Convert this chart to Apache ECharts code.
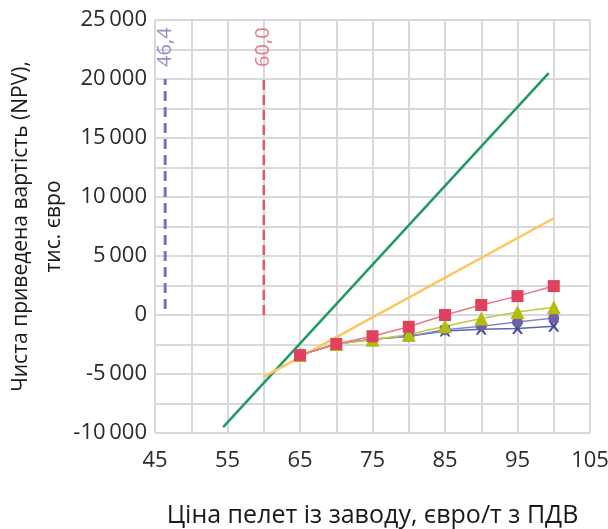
<!DOCTYPE html>
<html><head><meta charset="utf-8">
<script src="https://cdn.jsdelivr.net/npm/echarts@6/dist/echarts.min.js"></script>
<style>html,body{margin:0;padding:0;background:#fff}#c{width:608px;height:529px}</style>
</head><body><div id="c"></div>
<script>
var prices = [65, 70, 75, 80, 85, 90, 95, 100];
var squareSeries = [-3400, -2450, -1800, -1000, 0, 850, 1600, 2450];
var triangleSeries = [-3400, -2450, -2100, -1650, -950, -300, 250, 650];
var circleSeries = [-3400, -2450, -2050, -1800, -1250, -950, -600, -250];
var crossSeries = [-3400, -2450, -2050, -1800, -1350, -1200, -1150, -950];
var greenLine = [[54.4, -9500], [99.3, 20500]];
var yellowLine = [[60, -5250], [100, 8200]];
var breakEvenPurple = [[46.4, 500], [46.4, 20000]];
var breakEvenRed = [[60, 0], [60, 20000]];
var purpleLabel = '46,4';
var redLabel = '60,0';
var labelY = 22700;

function pairs(ys){ return prices.map(function(x,i){ return [x, ys[i]]; }); }
function fmtNum(v){
  var s = String(Math.abs(v));
  if (s.length > 3) s = s.slice(0, s.length-3) + '\u2009' + s.slice(s.length-3);
  return (v < 0 ? '-' : '') + s;
}
var font = '"Open Sans", "Noto Sans", sans-serif';
var chart = echarts.init(document.getElementById('c'));
chart.setOption({
  animation: false,
  grid: {left: 155, right: 18, top: 20, bottom: 96, containLabel: false, outerBoundsMode: 'none'},
  xAxis: {
    type: 'value', min: 45, max: 105, interval: 5,
    axisLine: {show: false}, axisTick: {show: false},
    splitLine: {show: true, lineStyle: {color: '#d9d9d9', width: 2}},
    axisLabel: {color: '#2a2a2a', fontSize: 22, fontFamily: font, margin: 17,
      formatter: function(v){ return ((v - 45) % 10 === 0) ? String(v) : ''; }},
    name: 'Ціна пелет із заводу, євро/т з ПДВ', nameLocation: 'middle', nameGap: 70,
    nameMoveOverlap: false,
    nameTextStyle: {color: '#1a1a1a', fontSize: 25, fontFamily: font}
  },
  yAxis: {
    type: 'value', min: -10000, max: 25000, interval: 2500,
    axisLine: {show: false}, axisTick: {show: false},
    splitLine: {show: true, lineStyle: {color: '#d9d9d9', width: 2}},
    axisLabel: {color: '#2a2a2a', fontSize: 22, fontFamily: font, margin: 8,
      formatter: function(v){ return (v % 5000 === 0) ? fmtNum(v) : ''; }},
    name: 'Чиста приведена вартість (NPV),\nтис. євро', nameLocation: 'middle', nameGap: 84,
    nameMoveOverlap: false,
    nameTextStyle: {color: '#1a1a1a', fontSize: 21, fontFamily: font, lineHeight: 33}
  },
  series: [
    {type: 'line', data: breakEvenPurple, symbol: 'none', silent: true,
      lineStyle: {color: '#7b73b8', width: 3, type: [10, 6]}},
    {type: 'line', data: breakEvenRed, symbol: 'none', silent: true,
      lineStyle: {color: '#e0596b', width: 2.5, type: [10, 5]}},
    {type: 'scatter', data: [[46.4, labelY]], symbolSize: 0,
      label: {show: true, position: 'inside', rotate: 90, formatter: purpleLabel,
        color: '#7b73b8', fontSize: 20, fontFamily: font}},
    {type: 'scatter', data: [[60, labelY]], symbolSize: 0,
      label: {show: true, position: 'inside', rotate: 90, formatter: redLabel,
        color: '#e0596b', fontSize: 20, fontFamily: font}},
    {type: 'line', data: greenLine, symbol: 'none',
      lineStyle: {color: '#1f9a62', width: 2.5}},
    {type: 'line', data: yellowLine, symbol: 'none',
      lineStyle: {color: '#ffc45c', width: 2.5}},
    {type: 'line', data: pairs(crossSeries), symbol: 'path://M-1,-1L-0.6,-1L0,-0.3L0.6,-1L1,-1L0.3,0L1,1L0.6,1L0,0.3L-0.6,1L-1,1L-0.3,0Z', symbolSize: 11,
      itemStyle: {color: '#3e4c9c'}, lineStyle: {color: '#5866b0', width: 1.5}},
    {type: 'line', data: pairs(circleSeries), symbol: 'circle', symbolSize: 11,
      itemStyle: {color: '#6d62a8'}, lineStyle: {color: '#8a86c4', width: 1.5}},
    {type: 'line', data: pairs(triangleSeries), symbol: 'triangle', symbolSize: 14,
      itemStyle: {color: '#b3bd10'}, lineStyle: {color: '#c3c840', width: 1.5}},
    {type: 'line', data: pairs(squareSeries), symbol: 'rect', symbolSize: 12,
      itemStyle: {color: '#e0415c'}, lineStyle: {color: '#e8768a', width: 1.5}}
  ]
});
</script></body></html>
